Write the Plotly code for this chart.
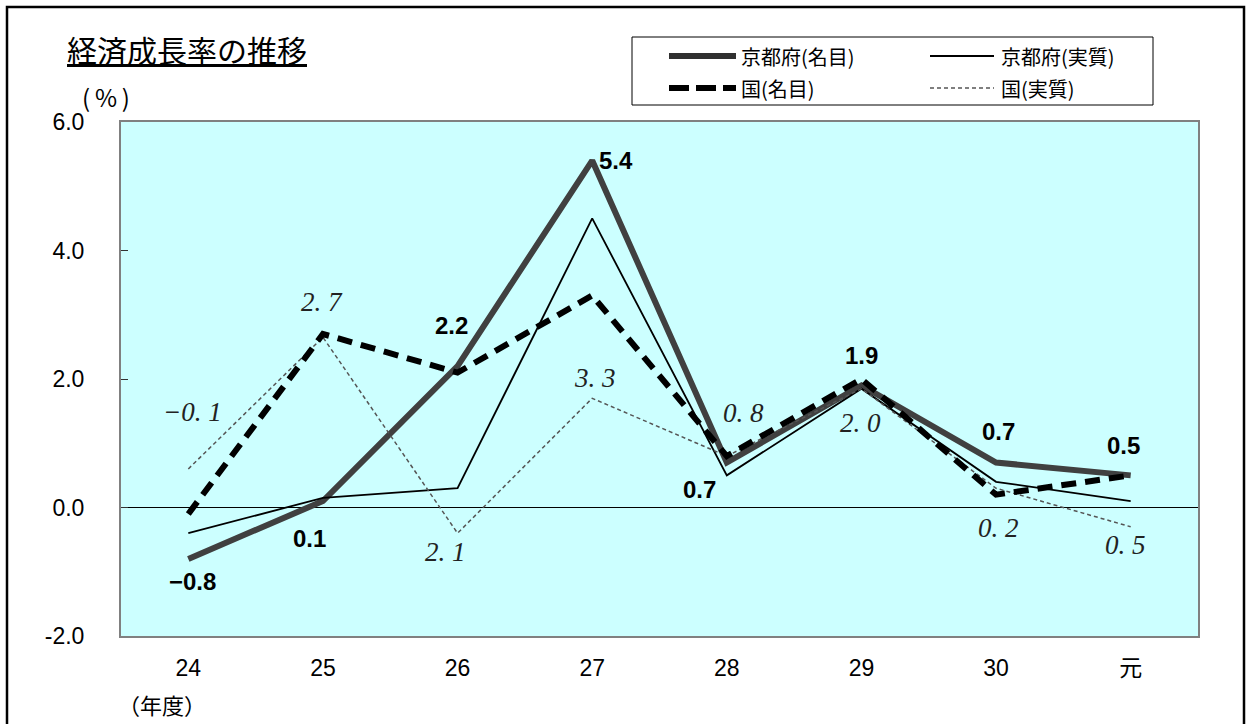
import plotly.graph_objects as go

# ---------------- data ----------------
years = ["24", "25", "26", "27", "28", "29", "30", "元"]
kyoto_nominal = [-0.8, 0.1, 2.2, 5.4, 0.7, 1.9, 0.7, 0.5]
kyoto_real = [-0.4, 0.15, 0.3, 4.5, 0.5, 1.85, 0.4, 0.1]
japan_nominal = [-0.1, 2.7, 2.1, 3.3, 0.8, 2.0, 0.2, 0.5]
japan_real = [0.6, 2.65, -0.4, 1.7, 0.8, 1.85, 0.3, -0.3]
ytick_vals = [-2, 0, 2, 4, 6]
ytick_text = ["-2.0", "0.0", "2.0", "4.0", "6.0"]
series_names = ["京都府(名目)", "京都府(実質)", "国(名目)", "国(実質)"]

# label offsets (dx, dy-up) in pixels relative to the point
kyoto_nom_label_off = [(4, -23), (-13, -37), (-6, 41), (24, 0), (-27, -27), (0, 30), (2, 31), (-7, 30)]
japan_nom_label_off = [(4, 102), (-1, 32), (-12, -179), (3, -83), (17, 43), (-1, -44), (2, -33), (-5, -70)]

# ---------------- geometry ----------------
W, H = 1247, 724
L, R, T, B = 121, 1198, 122, 636


def px(x):
    return (x - L) / (R - L)


def py(y):
    return (B - y) / (B - T)


def fmt_bold(v):
    return f"{v:.1f}".replace("-", "\u2212")


def fmt_italic(v):
    return f"{v:.1f}".replace("-", "\u2212").replace(".", ". ")


CJK = "Noto Sans CJK JP"
NUM = "Liberation Sans, Noto Sans CJK JP"

fig = go.Figure()

fig.add_trace(go.Scatter(x=years, y=kyoto_nominal, mode="lines", name=series_names[0],
                         line=dict(color="#404040", width=6)))
fig.add_trace(go.Scatter(x=years, y=kyoto_real, mode="lines", name=series_names[1],
                         line=dict(color="#000000", width=1.8)))
fig.add_trace(go.Scatter(x=years, y=japan_real, mode="lines", name=series_names[3],
                         line=dict(color="#555555", width=1.5, dash="4px,3px")))
fig.add_trace(go.Scatter(x=years, y=japan_nominal, mode="lines", name=series_names[2],
                         line=dict(color="#000000", width=6, dash="15px,9px")))

annotations = []
for i, v in enumerate(kyoto_nominal):
    dx, dy = kyoto_nom_label_off[i]
    annotations.append(dict(x=i, y=v, xref="x", yref="y", text=fmt_bold(v), showarrow=False,
                            xshift=dx, yshift=dy, xanchor="center", yanchor="middle",
                            font=dict(family="Liberation Sans", size=24, color="#000000", weight="bold")))
for i, v in enumerate(japan_nominal):
    dx, dy = japan_nom_label_off[i]
    annotations.append(dict(x=i, y=v, xref="x", yref="y", text=fmt_italic(v),
                            showarrow=False, xshift=dx, yshift=dy, xanchor="center", yanchor="middle",
                            font=dict(family="Liberation Serif", size=27, color="#222222", style="italic")))

# title and unit labels
annotations.append(dict(x=px(65), y=py(49), xref="paper", yref="paper", text="経済成長率の推移",
                        showarrow=False, xanchor="left", yanchor="middle",
                        font=dict(family=CJK, size=30, color="#000000", lineposition="under")))
annotations.append(dict(x=px(106), y=py(97), xref="paper", yref="paper", text="(\u2009%\u2009)",
                        showarrow=False, xanchor="center", yanchor="middle",
                        font=dict(family=CJK, size=24, color="#000000")))
annotations.append(dict(x=px(162), y=py(704), xref="paper", yref="paper", text="（年度）",
                        showarrow=False, xanchor="center", yanchor="middle",
                        font=dict(family=CJK, size=22, color="#000000")))

# legend texts
leg_text_pos = [(739, 56), (999, 56), (739, 88), (999, 88)]
for name, (lx, ly) in zip(series_names, leg_text_pos):
    annotations.append(dict(x=px(lx), y=py(ly), xref="paper", yref="paper", text=name,
                            showarrow=False, xanchor="left", yanchor="middle",
                            font=dict(family=CJK, size=20, color="#000000")))

shapes = [
    # outer frame
    dict(type="rect", xref="paper", yref="paper", x0=px(7), x1=px(1244), y0=py(735), y1=py(7),
         line=dict(color="#000000", width=2.5), fillcolor="rgba(0,0,0,0)", layer="above"),
    # legend box
    dict(type="rect", xref="paper", yref="paper", x0=px(632), x1=px(1153), y0=py(105), y1=py(37),
         line=dict(color="#000000", width=1), fillcolor="#FFFFFF", layer="above"),
    # legend samples
    dict(type="line", xref="paper", yref="paper", x0=px(669), x1=px(736), y0=py(56), y1=py(56),
         line=dict(color="#303030", width=6), layer="above"),
    dict(type="line", xref="paper", yref="paper", x0=px(930), x1=px(994), y0=py(56), y1=py(56),
         line=dict(color="#000000", width=1.8), layer="above"),
    dict(type="line", xref="paper", yref="paper", x0=px(669), x1=px(736), y0=py(88), y1=py(88),
         line=dict(color="#000000", width=6, dash="20px,7px"), layer="above"),
    dict(type="line", xref="paper", yref="paper", x0=px(930), x1=px(994), y0=py(88), y1=py(88),
         line=dict(color="#555555", width=1.5, dash="4px,3px"), layer="above"),
]

fig.update_layout(
    width=W, height=H, autosize=False,
    margin=dict(l=L, r=W - R, t=T, b=H - B, pad=0),
    paper_bgcolor="#FFFFFF", plot_bgcolor="#CCFFFF",
    showlegend=False,
    annotations=annotations, shapes=shapes,
    xaxis=dict(type="category", range=[-0.5, 7.5], showgrid=False, zeroline=False,
               showline=True, linecolor="#808080", linewidth=2, mirror=True,
               ticks="", ticklabelstandoff=10,
               tickfont=dict(family=NUM, size=23, color="#000000")),
    yaxis=dict(range=[-2, 6], tickvals=ytick_vals, ticktext=ytick_text, showgrid=False,
               zeroline=True, zerolinecolor="#000000", zerolinewidth=1.2,
               showline=True, linecolor="#808080", linewidth=2, mirror=True,
               ticks="inside", ticklen=7, tickcolor="#333333", tickwidth=1,
               ticklabelstandoff=30,
               tickfont=dict(family=NUM, size=23, color="#000000")),
)

fig.write_html("out.html")
